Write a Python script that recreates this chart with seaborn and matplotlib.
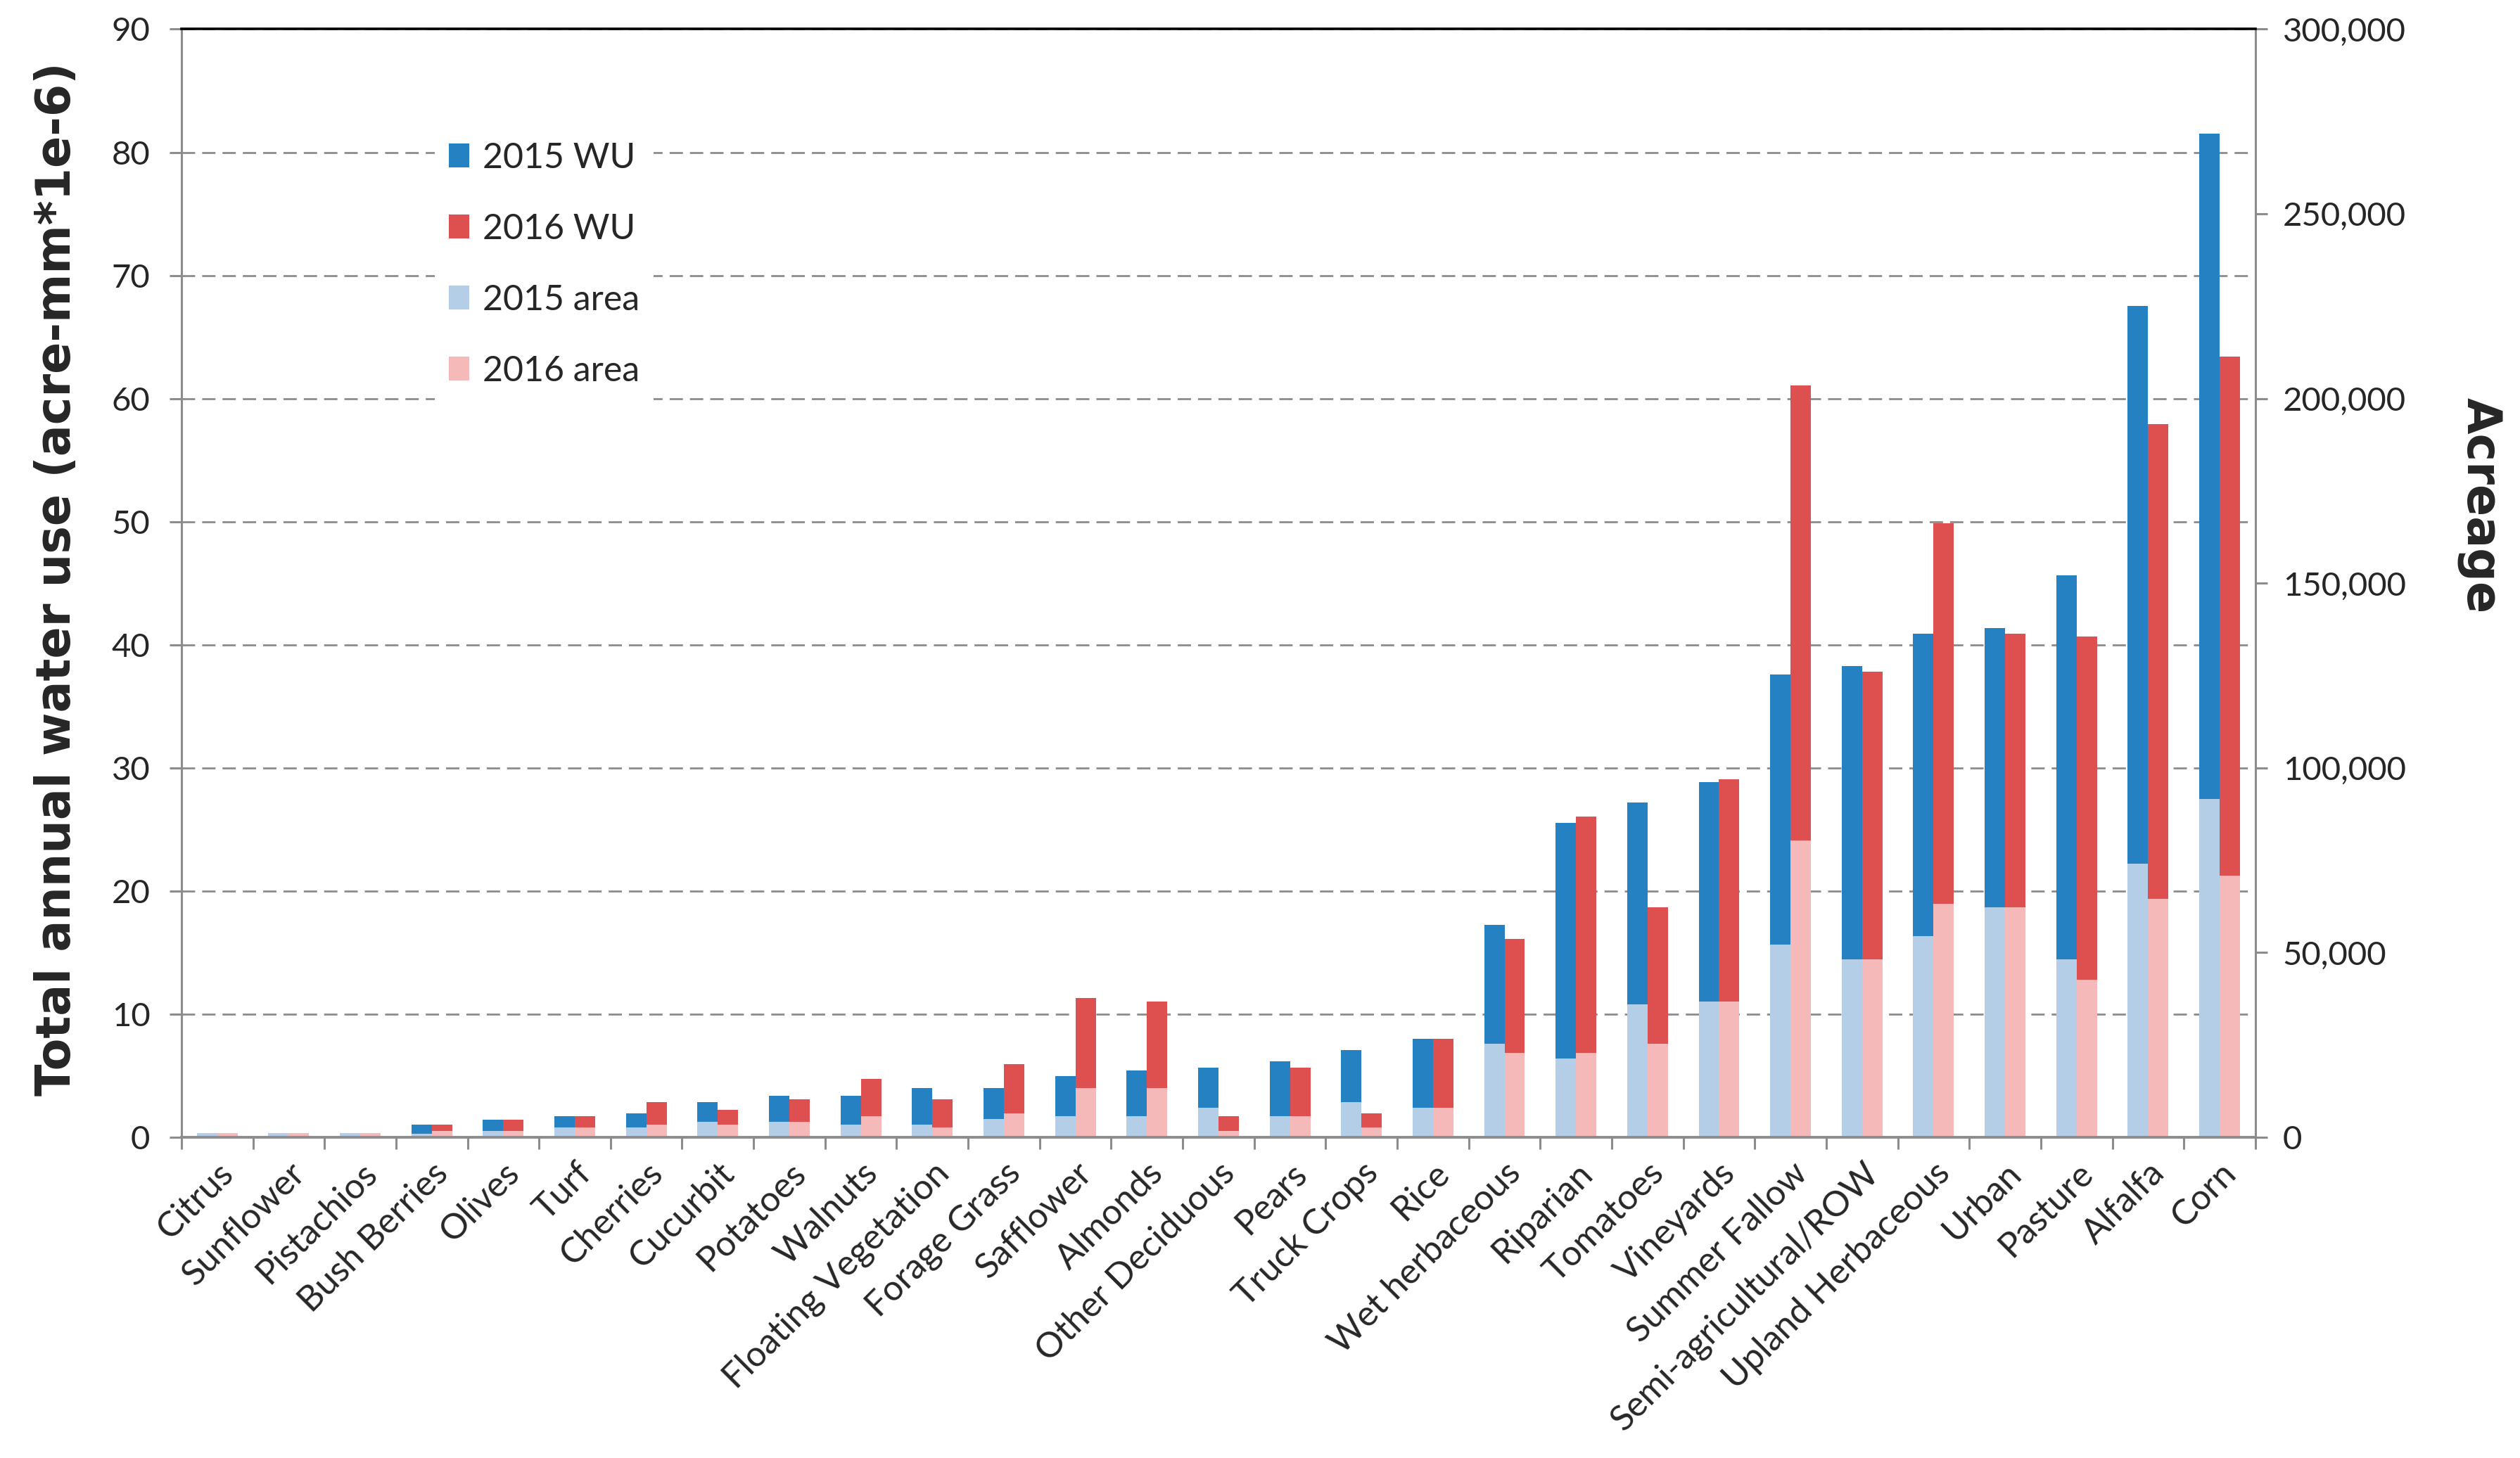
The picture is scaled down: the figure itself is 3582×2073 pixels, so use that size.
import numpy as np
import pandas as pd
import matplotlib
matplotlib.use('Agg')
import matplotlib.pyplot as plt
import seaborn as sns
from matplotlib.patches import Patch
from matplotlib.ticker import FuncFormatter, FixedLocator

# crops sorted by total water use
crops = ['Citrus', 'Sunflower', 'Pistachios', 'Bush Berries', 'Olives', 'Turf', 'Cherries',
         'Cucurbit', 'Potatoes', 'Walnuts', 'Floating Vegetation', 'Forage Grass', 'Safflower',
         'Almonds', 'Other Deciduous', 'Pears', 'Truck Crops', 'Rice', 'Wet herbaceous',
         'Riparian', 'Tomatoes', 'Vineyards', 'Summer Fallow', 'Semi-agricultural/ROW',
         'Upland Herbaceous', 'Urban', 'Pasture', 'Alfalfa', 'Corn']

# total annual water use (acre-mm*1e-6)
wu_2015 = [0.25, 0.2, 0.2, 1.02, 1.45, 1.72, 1.94, 2.88, 3.34, 3.34, 4.02, 4.02, 4.99, 5.45,
           5.67, 6.15, 7.07, 8.01, 17.27, 25.53, 27.19, 28.85, 37.56, 38.28, 40.88, 41.36,
           45.62, 67.5, 81.52]
wu_2016 = [0.25, 0.2, 0.2, 1.02, 1.45, 1.72, 2.88, 2.2, 3.1, 4.72, 3.1, 5.91, 11.28, 11.04,
           1.72, 5.67, 1.94, 8.01, 16.1, 26.04, 18.65, 29.05, 61.05, 37.84, 49.88, 40.88,
           40.65, 57.94, 63.4]

# acreage
area_2015 = [1130, 1130, 1130, 970, 1770, 2570, 2570, 4100, 4100, 3400, 3400, 4930, 5730, 5730,
             8070, 5730, 9600, 8070, 25270, 21230, 36000, 36800, 52070, 48070, 54430, 62230,
             48070, 74130, 91570]
area_2016 = [1130, 1130, 1130, 1770, 1770, 2570, 3400, 3400, 4100, 5730, 2570, 6470, 13400, 13400,
             1770, 5730, 2570, 8070, 22930, 22930, 25270, 36800, 80430, 48070, 63170, 62230,
             42630, 64630, 70900]

wu_labels = ['2015 WU', '2016 WU']
area_labels = ['2015 area', '2016 area']
colors = {'2015 WU': '#2581C1', '2016 WU': '#DE5050',
          '2015 area': '#B3CEE6', '2016 area': '#F5B9B9'}

n = len(crops)
wu_df = pd.DataFrame({'crop': crops * 2,
                      'series': [wu_labels[0]] * n + [wu_labels[1]] * n,
                      'value': wu_2015 + wu_2016})
area_df = pd.DataFrame({'crop': crops * 2,
                        'series': [area_labels[0]] * n + [area_labels[1]] * n,
                        'value': area_2015 + area_2016})

sns.set_theme(style='white')
plt.rcParams['font.family'] = ['Lato', 'DejaVu Sans']

grey = '#8C8C8C'
fig = plt.figure(figsize=(17.91, 10.365), dpi=200)
ax = fig.add_axes([0.072, 0.22, 0.823, 0.76])

sns.barplot(data=wu_df, x='crop', y='value', hue='series', hue_order=wu_labels,
            palette=colors, width=0.57, saturation=1, errorbar=None, linewidth=0,
            ax=ax, legend=False)

ax2 = ax.twinx()
sns.barplot(data=area_df, x='crop', y='value', hue='series', hue_order=area_labels,
            palette=colors, width=0.57, saturation=1, errorbar=None, linewidth=0,
            ax=ax2, legend=False)

ax.set_xlim(-0.5, n - 0.5)
ax.set_ylim(0, 90)
ax2.set_ylim(0, 300000)
ax.set_yticks(np.arange(0, 91, 10))
ax2.set_yticks(np.arange(0, 300001, 50000))
ax2.yaxis.set_major_formatter(FuncFormatter(lambda v, p: f'{int(v):,}'))

# x ticks: labels at centres, tick marks at category boundaries
ax.xaxis.set_major_locator(FixedLocator(np.arange(n)))
ax.xaxis.set_minor_locator(FixedLocator(np.arange(-0.5, n, 1)))
ax.set_xticklabels(crops, rotation=45, ha='right', rotation_mode='anchor', fontsize=18)
ax.tick_params(axis='x', which='major', length=0, pad=10)
ax.tick_params(axis='x', which='minor', length=6, width=1.1, color=grey, direction='out',
               bottom=True)
ax.tick_params(axis='y', length=6, width=1.1, color=grey, direction='out', pad=10,
               labelsize=17, left=True)
ax2.tick_params(axis='y', length=6, width=1.1, color=grey, direction='out', pad=8,
                labelsize=17, right=True)

ax.grid(axis='y', color=grey, linewidth=1, linestyle=(0, (6.8, 3.6)))
ax.grid(axis='x', visible=False)
ax2.grid(False)
ax.set_axisbelow(True)

for side in ['left', 'top', 'right', 'bottom']:
    ax.spines[side].set_visible(False)
    ax2.spines[side].set_visible(False)
ax.spines['left'].set_visible(True)
ax.spines['left'].set_color(grey)
ax.spines['left'].set_linewidth(1.1)
ax2.spines['right'].set_visible(True)
ax2.spines['right'].set_color(grey)
ax2.spines['right'].set_linewidth(1.1)
ax2.spines['bottom'].set_visible(True)
ax2.spines['bottom'].set_color(grey)
ax2.spines['bottom'].set_linewidth(1.4)
ax2.spines['top'].set_visible(True)
ax2.spines['top'].set_color('black')
ax2.spines['top'].set_linewidth(1.3)

ax.set_xlabel('')
ax2.set_xlabel('')
ax.set_ylabel('Total annual water use (acre-mm*1e-6)', fontsize=24, fontweight='bold',
              family='DejaVu Sans')
ax.yaxis.set_label_coords(-0.060, 0.504)
ax.yaxis.label.set_va('center')
ax2.set_ylabel('Acreage', fontsize=24, fontweight='bold', family='DejaVu Sans', rotation=270)
ax2.yaxis.set_label_coords(1.108, 0.57)
ax2.yaxis.label.set_va('center')

handles = [Patch(facecolor=colors[k], edgecolor='none', label=k) for k in wu_labels + area_labels]
leg = ax2.legend(handles=handles, loc='upper left', bbox_to_anchor=(0.122, 0.911),
                 frameon=True, facecolor='white', edgecolor='none', framealpha=1,
                 fancybox=False, fontsize=18, handlelength=0.58, handleheight=0.66,
                 handletextpad=0.38, labelspacing=1.1, borderaxespad=0)
leg.set_zorder(10)

fig.savefig('out.png', dpi=200)
